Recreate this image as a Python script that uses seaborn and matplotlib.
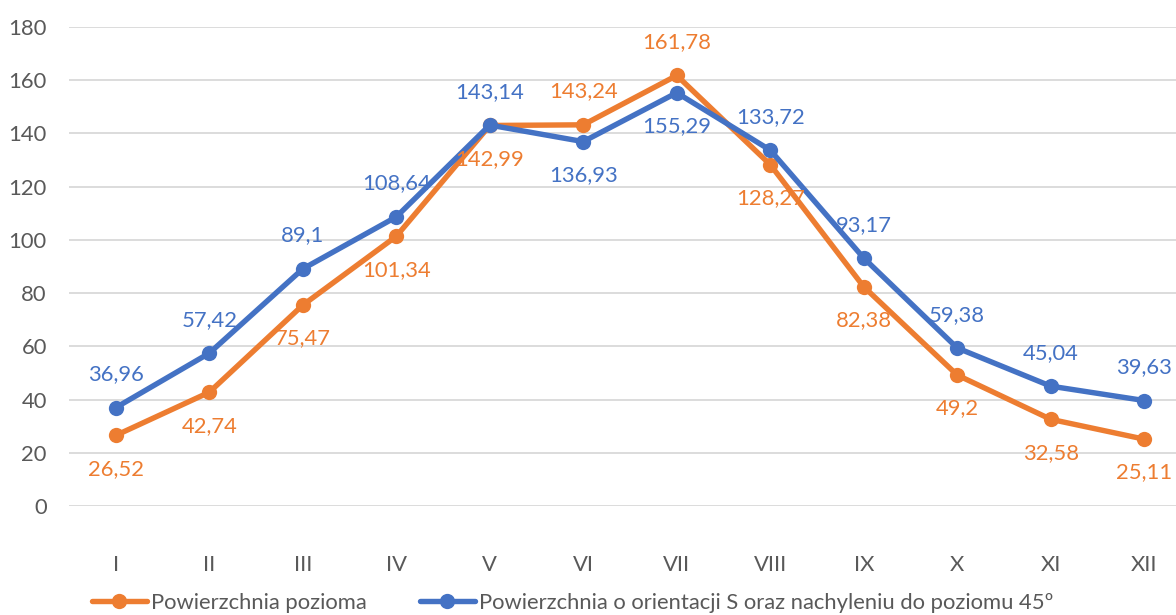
import matplotlib
matplotlib.use("Agg")
import matplotlib.pyplot as plt
import seaborn as sns
import pandas as pd
from matplotlib.lines import Line2D

months = ["I", "II", "III", "IV", "V", "VI", "VII", "VIII", "IX", "X", "XI", "XII"]
horizontal = [26.52, 42.74, 75.47, 101.34, 142.99, 143.24, 161.78, 128.27, 82.38, 49.2, 32.58, 25.11]
tilted = [36.96, 57.42, 89.1, 108.64, 143.14, 136.93, 155.29, 133.72, 93.17, 59.38, 45.04, 39.63]
series_names = ["Powierzchnia pozioma",
                "Powierzchnia o orientacji S oraz nachyleniu do poziomu 45º"]
y_ticks = [0, 20, 40, 60, 80, 100, 120, 140, 160, 180]

ORANGE = "#ED7D31"
BLUE = "#4472C4"
TEXT = "#595959"
GRID = "#D9D9D9"

sns.set_theme(style="white")
plt.rcParams["font.family"] = ["Lato", "DejaVu Sans"]

df = pd.DataFrame({
    "idx": list(range(len(months))) * 2,
    "value": horizontal + tilted,
    "series": [series_names[0]] * len(months) + [series_names[1]] * len(months),
})

fig = plt.figure(figsize=(11.76, 6.15), dpi=100)
ax = fig.add_axes([69 / 1176, 109 / 615, 1122 / 1176, 479 / 615])

LW = 3.9
MS = 11
sns.lineplot(data=df, x="idx", y="value", hue="series",
             palette=[ORANGE, BLUE], marker="o", markersize=MS,
             markeredgewidth=0, linewidth=LW, legend=False, ax=ax)

def fmt(v):
    return f"{v:g}".replace(".", ",")

fs = 15.8
for i, (h, t) in enumerate(zip(horizontal, tilted)):
    # the two series swap label sides where the horizontal value is higher
    h_above = h > t
    ax.annotate(fmt(h), (i, h), xytext=(0, 24 if h_above else -24),
                textcoords="offset points", ha="center", va="center",
                color=ORANGE, fontsize=fs)
    ax.annotate(fmt(t), (i, t), xytext=(0, -24 if h_above else 24),
                textcoords="offset points", ha="center", va="center",
                color=BLUE, fontsize=fs)

ax.set_xlim(-0.5, len(months) - 0.5)
ax.set_ylim(0, 180)
ax.set_yticks(y_ticks)
ax.set_yticklabels([str(v) for v in y_ticks])
ax.set_xticks(range(len(months)))
ax.set_xticklabels(months)
ax.set_xlabel("")
ax.set_ylabel("")
ax.grid(axis="y", color=GRID, linewidth=1.3)
ax.set_axisbelow(True)
for s in ax.spines.values():
    s.set_visible(False)
ax.tick_params(axis="x", length=0, pad=35, labelsize=fs, labelcolor=TEXT)
ax.tick_params(axis="y", length=0, pad=16, labelsize=fs, labelcolor=TEXT)

handles = [Line2D([], [], color=ORANGE, lw=LW, marker="o", markersize=MS, markeredgewidth=0),
           Line2D([], [], color=BLUE, lw=LW, marker="o", markersize=MS, markeredgewidth=0)]
leg = fig.legend(handles, series_names, loc="center", bbox_to_anchor=(0.487, 0.02),
                 ncol=2, frameon=False, fontsize=fs, handlelength=2.5,
                 handletextpad=0.2, columnspacing=2.4)
for t in leg.get_texts():
    t.set_color(TEXT)

fig.savefig("out.png", dpi=100)
